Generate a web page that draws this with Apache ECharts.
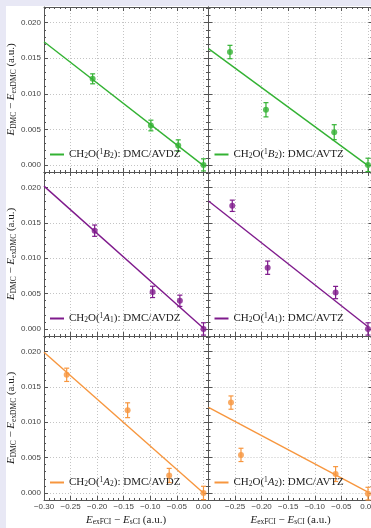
<!DOCTYPE html>
<html><head><meta charset="utf-8">
<script src="https://cdn.jsdelivr.net/npm/echarts@6/dist/echarts.min.js"></script>
<style>
html,body{margin:0;padding:0;background:#e8e8f5;overflow:hidden;}
#bg{position:absolute;left:6px;top:6px;width:365px;height:522px;background:#fff;}
#main{position:absolute;left:0;top:0;width:371px;height:528px;}
</style></head><body><div id="bg"></div><div id="main"></div>
<script>
// ---- data ----
const fitX = [-0.30, 0.0];

const xB2_DZ = [-0.2085, -0.0989, -0.0475, 0.0];
const yB2_DZ = [0.0121, 0.00554, 0.00272, 0.0];
const eB2_DZ = [0.0007, 0.00075, 0.0008, 0.00085];
const fitB2_DZ = [0.01732, -0.0001];

const xB2_TZ = [-0.2596, -0.1919, -0.0635, 0.0];
const yB2_TZ = [0.01587, 0.00775, 0.0046, 0.0];
const eB2_TZ = [0.00094, 0.001, 0.00105, 0.00094];
const fitB2_TZ = [0.01634, -0.0001];

const xA1_DZ = [-0.2047, -0.0957, -0.0444, 0.0];
const yA1_DZ = [0.0139, 0.00524, 0.00398, 0.0];
const eA1_DZ = [0.0008, 0.0008, 0.0008, 0.00087];
const fitA1_DZ = [0.0202, 0.0001];

const xA1_TZ = [-0.2553, -0.1887, -0.0609, 0.0];
const yA1_TZ = [0.01742, 0.00866, 0.00515, 0.0];
const eA1_TZ = [0.0008, 0.00094, 0.00087, 0.00087];
const fitA1_TZ = [0.0181, 0.0003];

const xA2_DZ = [-0.2573, -0.1427, -0.0645, 0.0];
const yA2_DZ = [0.01671, 0.0117, 0.00247, 0.0];
const eA2_DZ = [0.00094, 0.00105, 0.001, 0.00094];
const fitA2_DZ = [0.0199, 0.0];

const xA2_TZ = [-0.2577, -0.2389, -0.0609, 0.0];
const yA2_TZ = [0.01278, 0.00538, 0.00267, -0.0001];
const eA2_TZ = [0.00094, 0.00094, 0.00105, 0.0009];
const fitA2_TZ = [0.0121, 0.0001];

const legendTexts = [
  'CH{sub|2}O({sup|1}{it|B}{sub|2}): DMC/AVDZ',
  'CH{sub|2}O({sup|1}{it|B}{sub|2}): DMC/AVTZ',
  'CH{sub|2}O({sup|1}{it|A}{sub|1}): DMC/AVDZ',
  'CH{sub|2}O({sup|1}{it|A}{sub|1}): DMC/AVTZ',
  'CH{sub|2}O({sup|1}{it|A}{sub|2}): DMC/AVDZ',
  'CH{sub|2}O({sup|1}{it|A}{sub|2}): DMC/AVTZ'
];
const yName = '{it|E}{sub|DMC} − {it|E}{sub|exDMC} (a.u.)';
const xName = '{it|E}{sub|exFCI} − {it|E}{sub|sCI} (a.u.)';

// ---- layout ----
const GREEN = '#33b233', PURPLE = '#7f1a8c', ORANGE = '#f7963e';
const panels = [
  {row:0,col:0,x:xB2_DZ,y:yB2_DZ,e:eB2_DZ,fit:fitB2_DZ,color:GREEN},
  {row:0,col:1,x:xB2_TZ,y:yB2_TZ,e:eB2_TZ,fit:fitB2_TZ,color:GREEN},
  {row:1,col:0,x:xA1_DZ,y:yA1_DZ,e:eA1_DZ,fit:fitA1_DZ,color:PURPLE},
  {row:1,col:1,x:xA1_TZ,y:yA1_TZ,e:eA1_TZ,fit:fitA1_TZ,color:PURPLE},
  {row:2,col:0,x:xA2_DZ,y:yA2_DZ,e:eA2_DZ,fit:fitA2_DZ,color:ORANGE},
  {row:2,col:1,x:xA2_TZ,y:yA2_TZ,e:eA2_TZ,fit:fitA2_TZ,color:ORANGE}
];
const rowTop = [7, 172, 336], rowH = [165, 164, 164];
const colLeft = [44, 208.5], colW = 164;
const XMIN = -0.30, XMAX = 0.0085, YMIN = -0.001, YMAX = 0.0222;

const serif = 'Liberation Serif';
const richSerif = (fs) => ({
  it: {fontFamily: serif, fontStyle: 'italic', fontSize: fs, color: '#222'},
  sub: {fontFamily: serif, fontSize: fs*0.68, verticalAlign: 'bottom', color: '#222', padding:[4,0,0,0]},
  sup: {fontFamily: serif, fontSize: fs*0.68, verticalAlign: 'top', color: '#222', padding:[0,0,4,0]}
});

function fmtX(v){ const k=v/0.05; if(Math.abs(k-Math.round(k))>1e-6) return ''; if(Math.abs(v)<1e-9) return '0.00'; const s=v.toFixed(2); return v<0?'−'+s.slice(1):s; }
function fmtY(v){ const k=v/0.005; if(Math.abs(k-Math.round(k))>1e-6) return ''; if(Math.abs(v)<1e-9) return '0.000'; const s=v.toFixed(3); return v<0?'−'+s.slice(1):s; }

const frameColor = '#555';
function baseAxis(){
  return {
    type:'value',
    axisLine:{show:true,onZero:false,lineStyle:{color:frameColor,width:1}},
    axisTick:{show:true,inside:true,length:4,lineStyle:{color:frameColor,width:1}},
    minorTick:{show:true,splitNumber:5,length:2,lineStyle:{color:frameColor,width:1}},
    minorSplitLine:{show:false}
  };
}

const grids=[], xAxes=[], yAxes=[], series=[], legends=[];
panels.forEach((p,i)=>{
  grids.push({left:colLeft[p.col], top:rowTop[p.row], width:colW, height:rowH[p.row], containLabel:false, outerBoundsMode:'none'});
  const bottomLabels = p.row===2, leftLabels = p.col===0;
  const xb = Object.assign(baseAxis(), {gridIndex:i, position:'bottom', min:XMIN, max:XMAX, splitNumber:6,
    axisLabel:{show:bottomLabels, formatter:fmtX, fontSize:8, color:'#444', margin:3, fontFamily:'Liberation Sans', hideOverlap:false, showMinLabel: p.col===0, showMaxLabel:false},
    splitLine:{show:true,lineStyle:{color:'#c4c4c4',type:[1,2],width:1}},
    name: (bottomLabels && true) ? xName : '', nameLocation:'middle', nameGap:15,
    nameTextStyle:{fontFamily:serif,fontSize:11,color:'#222',rich:richSerif(11)}});
  const xt = Object.assign(baseAxis(), {gridIndex:i, position:'top', min:XMIN, max:XMAX, splitNumber:6,
    axisLabel:{show:false}, splitLine:{show:false}});
  const yl = Object.assign(baseAxis(), {gridIndex:i, position:'left', min:YMIN, max:YMAX, splitNumber:5,
    axisLabel:{show:leftLabels, formatter:fmtY, fontSize:8, color:'#444', margin:3, fontFamily:'Liberation Sans', hideOverlap:false, showMinLabel:false, showMaxLabel:false},
    splitLine:{show:true,lineStyle:{color:'#c4c4c4',type:[1,2],width:1}},
    name: leftLabels ? yName : '', nameLocation:'middle', nameGap:25,
    nameTextStyle:{fontFamily:serif,fontSize:11,color:'#222',rich:richSerif(11)}});
  const yr = Object.assign(baseAxis(), {gridIndex:i, position:'right', min:YMIN, max:YMAX, splitNumber:5,
    axisLabel:{show:false}, splitLine:{show:false}});
  xAxes.push(xb, xt); yAxes.push(yl, yr);
  const xi = 2*i, yi = 2*i;
  const nm = 'panel'+i;
  series.push({type:'line', name:nm, xAxisIndex:xi, yAxisIndex:yi, data: fitX.map((x,k)=>[x,p.fit[k]]),
    symbol:'none', color:p.color, lineStyle:{color:p.color,width:1.4}, z:2, silent:true, animation:false});
  series.push({type:'custom', name:nm+'err', xAxisIndex:xi, yAxisIndex:yi,
    data: p.x.map((x,k)=>[x,p.y[k],p.e[k]]), encode:{x:0,y:1}, z:3, animation:false, clip:false,
    renderItem:(params,api)=>{
      const xv=api.value(0), yv=api.value(1), ev=api.value(2);
      const lo=api.coord([xv,yv-ev]), hi=api.coord([xv,yv+ev]); const cw=2.5;
      const st={stroke:p.color,lineWidth:1.2};
      return {type:'group',children:[
        {type:'line',shape:{x1:lo[0],y1:lo[1],x2:hi[0],y2:hi[1]},style:st},
        {type:'line',shape:{x1:lo[0]-cw,y1:lo[1],x2:lo[0]+cw,y2:lo[1]},style:st},
        {type:'line',shape:{x1:hi[0]-cw,y1:hi[1],x2:hi[0]+cw,y2:hi[1]},style:st}
      ]};
    }});
  series.push({type:'scatter', name:nm+'pts', xAxisIndex:xi, yAxisIndex:yi,
    data:p.x.map((x,k)=>[x,p.y[k]]), symbol:'circle', symbolSize:6, itemStyle:{color:p.color}, z:4, animation:false, clip:false});
  legends.push({show:true, data:[nm], left: p.col===0 ? 50 : 214.5, top: rowTop[p.row]+rowH[p.row]-23,
    orient:'horizontal', icon:'rect', itemWidth:14, itemHeight:2, itemGap:0, padding:0, selectedMode:false,
    formatter:()=>legendTexts[i],
    textStyle:{fontFamily:serif,fontSize:11,color:'#222',rich:richSerif(11)}});
});

const chart = echarts.init(document.getElementById('main'), null, {renderer:'canvas'});
chart.setOption({
  animation:false,
  backgroundColor:'transparent',
  textStyle:{fontFamily:'Liberation Sans'},
  grid:grids, xAxis:xAxes, yAxis:yAxes, series:series, legend:legends, tooltip:{show:false}
});
</script></body></html>
